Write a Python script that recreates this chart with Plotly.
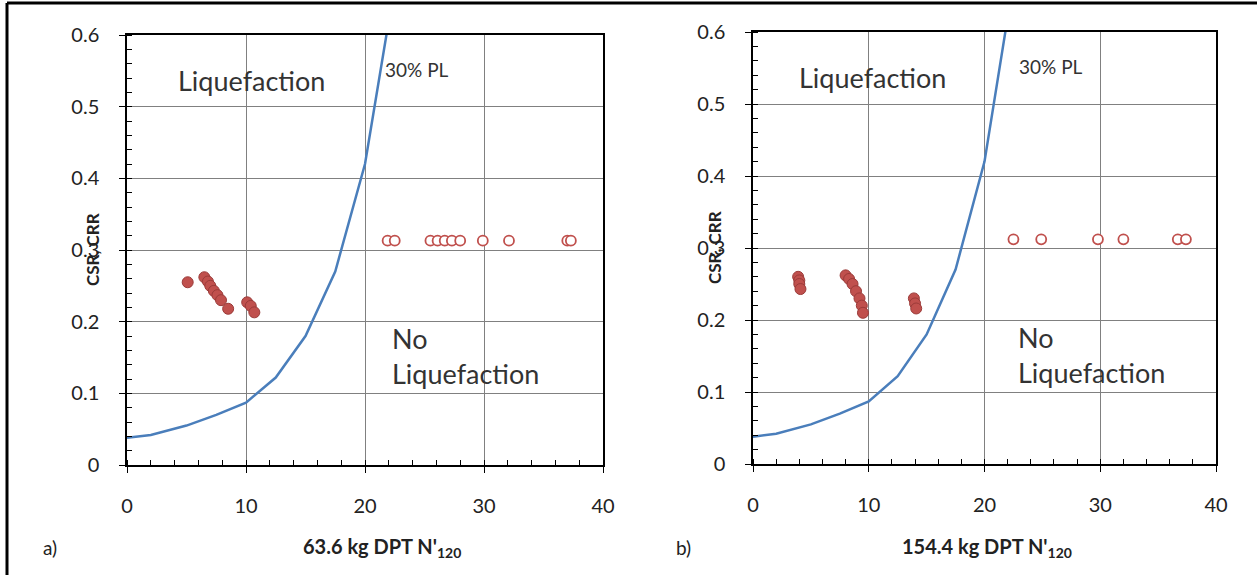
import plotly.graph_objects as go

# ---- data ----
curve_x = [0, 2, 5, 7.5, 10, 12.5, 15, 17.5, 20, 22]
curve_y = [0.038, 0.042, 0.055, 0.07, 0.087, 0.122, 0.18, 0.27, 0.42, 0.62]

a_liq_x = [5.1, 6.5, 6.8, 7.0, 7.3, 7.6, 7.9, 8.5, 10.1, 10.4, 10.7]
a_liq_y = [0.255, 0.262, 0.256, 0.25, 0.243, 0.237, 0.23, 0.218, 0.227, 0.222, 0.213]
a_non_x = [21.9, 22.5, 25.5, 26.1, 26.7, 27.3, 28.0, 29.9, 32.1, 37.0, 37.3]
a_non_y = [0.313] * 11

b_liq_x = [3.9, 4.0, 4.0, 4.1, 8.0, 8.3, 8.6, 8.9, 9.2, 9.4, 9.5, 13.9, 14.0, 14.1]
b_liq_y = [0.26, 0.255, 0.25, 0.243, 0.262, 0.257, 0.25, 0.24, 0.23, 0.22, 0.21, 0.23, 0.223, 0.216]
b_non_x = [22.5, 24.9, 29.8, 32.0, 36.7, 37.4]
b_non_y = [0.312] * 6

x_ticks = [0, 10, 20, 30, 40]
y_ticks = [0, 0.1, 0.2, 0.3, 0.4, 0.5, 0.6]
y_tick_text = ["0", "0.1", "0.2", "0.3", "0.4", "0.5", "0.6"]

FONT = "Lato"
RED = "#C0504D"
BLUE = "#4A7EBB"
W, H = 1257, 575

fig = go.Figure()
for xa, ya, lx, ly, nx, ny in [("x", "y", a_liq_x, a_liq_y, a_non_x, a_non_y),
                               ("x2", "y2", b_liq_x, b_liq_y, b_non_x, b_non_y)]:
    fig.add_trace(go.Scatter(x=curve_x, y=curve_y, mode="lines", xaxis=xa, yaxis=ya,
                             line=dict(color=BLUE, width=2.5), showlegend=False))
    fig.add_trace(go.Scatter(x=lx, y=ly, mode="markers", xaxis=xa, yaxis=ya,
                             marker=dict(color=RED, size=11, line=dict(color="#9B3B39", width=1)),
                             showlegend=False))
    fig.add_trace(go.Scatter(x=nx, y=ny, mode="markers", xaxis=xa, yaxis=ya,
                             marker=dict(color="white", size=10, line=dict(color=RED, width=1.8)),
                             showlegend=False))

xax = dict(range=[0, 40], tickvals=x_ticks, showgrid=True, gridcolor="#808080", gridwidth=1,
           showline=True, linecolor="black", linewidth=1.5, mirror=True, automargin=False,
           ticks="outside", ticklen=6, tickcolor="black", zeroline=False, ticklabelstandoff=16,
           tickfont=dict(family=FONT, size=20, color="#222"),
           minor=dict(ticks="inside", dtick=2, ticklen=5, tickcolor="black", showgrid=False))
yax = dict(range=[0, 0.6], tickvals=y_ticks, ticktext=y_tick_text, showgrid=True,
           gridcolor="#808080", gridwidth=1, automargin=False,
           showline=True, linecolor="black", linewidth=1.5, mirror=True,
           ticks="outside", ticklen=6, tickcolor="black", zeroline=False, ticklabelstandoff=16,
           tickfont=dict(family=FONT, size=20, color="#222"),
           minor=dict(ticks="inside", dtick=0.02, ticklen=5, tickcolor="black", showgrid=False))

fig.update_layout(
    width=W, height=H, margin=dict(l=0, r=0, t=0, b=0, autoexpand=False),
    paper_bgcolor="white", plot_bgcolor="white", template="none",
    xaxis=dict(xax, domain=[127/W, 603/W], anchor="y"),
    yaxis=dict(yax, domain=[1-465/H, 1-35/H], anchor="x"),
    xaxis2=dict(xax, domain=[753/W, 1216/W], anchor="y2"),
    yaxis2=dict(yax, domain=[1-464/H, 1-32/H], anchor="x2"),
)

ann = []
panels = [("x", "y", 50, "a)", "<b>63.6 kg DPT N'<sub>120</sub></b>", 21.4, 10.5, 21.5, 22.1, 92),
          ("x2", "y2", 683, "b)", "<b>154.4 kg DPT N'<sub>120</sub></b>", 20.2, 10.3, 22.8, 22.7, 714)]
for xr, yr, xc, tag, title, tx, lqx, plx, nlx, csx in panels:
    ann.append(dict(x=lqx, y=0.537, xref=xr, yref=yr, text="Liquefaction", showarrow=False,
                    font=dict(family=FONT, size=27, color="#333")))
    ann.append(dict(x=plx, y=0.552, xref=xr, yref=yr, text="30% PL", showarrow=False,
                    xanchor="left", font=dict(family=FONT, size=19, color="#333")))
    ann.append(dict(x=nlx, y=0.202, xref=xr, yref=yr, text="No<br>Liquefaction",
                    showarrow=False, xanchor="left", yanchor="top", align="left",
                    font=dict(family=FONT, size=27, color="#333")))
    ann.append(dict(x=tx, y=1-547/H, xref=xr, yref="paper", text=title, showarrow=False,
                    xanchor="center", yanchor="middle",
                    font=dict(family=FONT, size=20, color="#222")))
    ann.append(dict(x=xc/W, y=1-547/H, xref="paper", yref="paper", text=tag, showarrow=False,
                    xanchor="center", yanchor="middle", font=dict(family=FONT, size=19, color="#222")))
    ann.append(dict(x=csx/W, y=0.5, xref="paper", yref=yr + " domain", text="<b>CSR, CRR</b>",
                    textangle=-90, showarrow=False, xanchor="center", yanchor="middle",
                    font=dict(family=FONT, size=17, color="#222")))
fig.update_layout(annotations=ann)

fig.add_shape(type="line", xref="paper", yref="paper", x0=7/W, x1=7/W, y0=0, y1=1-3/H,
              line=dict(color="black", width=3))
fig.add_shape(type="line", xref="paper", yref="paper", x0=7/W, x1=1, y0=1-3/H, y1=1-3/H,
              line=dict(color="black", width=3))

fig.write_html("out.html")
